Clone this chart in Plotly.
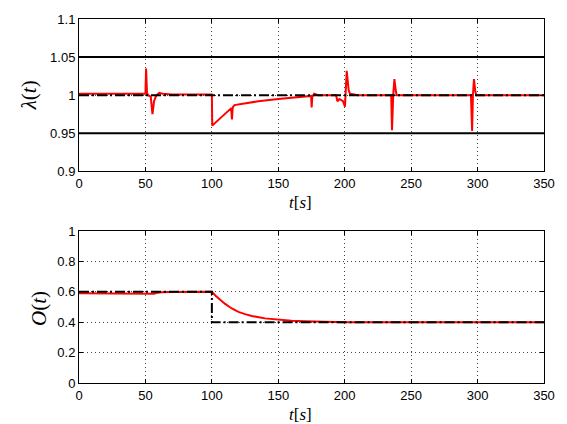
import plotly.graph_objects as go
from plotly.subplots import make_subplots

# ---- data ----
x_ticks = [0, 50, 100, 150, 200, 250, 300, 350]
lam_ticks = [0.9, 0.95, 1.0, 1.05, 1.1]
lam_ticklabels = ["0.9", "0.95", "1", "1.05", "1.1"]
o_ticks = [0, 0.2, 0.4, 0.6, 0.8, 1.0]
o_ticklabels = ["0", "0.2", "0.4", "0.6", "0.8", "1"]

lam_t = [0, 50, 50.5, 51.2, 52, 54, 55.3, 56.5, 58, 60.4, 63, 70, 100, 100.3, 101.5, 104,
         109, 114.6, 115.1, 115.7, 117, 124, 135, 150, 165, 174.7, 175.1, 175.6, 177, 178,
         180, 185, 193.5, 194.5, 196, 198.7, 200.2, 201.5, 203, 204, 210, 235, 235.6, 236.5,
         237.4, 238.3, 239, 295, 295.9, 296.5, 297.3, 298.2, 299, 350]
lam_v = [1.002, 1.002, 1.035, 1.003, 1.000, 0.998, 0.975, 0.992, 0.999, 1.003, 1.002, 1.001,
         1.001, 0.960, 0.962, 0.966, 0.975, 0.983, 0.968, 0.984, 0.987, 0.989, 0.992, 0.995,
         0.998, 0.999, 0.984, 0.998, 1.002, 1.001, 1.000, 1.000, 1.000, 0.992, 0.995, 0.992,
         0.985, 1.032, 1.006, 1.002, 1.000, 1.000, 0.954, 1.000, 1.021, 1.008, 1.000, 1.000,
         0.953, 1.000, 1.021, 1.006, 1.000, 1.000]
lam_ref_t = [0, 350]
lam_ref_v = [1.0, 1.0]
bound_t = [0, 350]
lam_upper = [1.05, 1.05]
lam_lower = [0.95, 0.95]

o_t = [0, 55, 56.5, 58, 62, 70, 100, 103, 106, 110, 115, 120, 125, 130, 140, 150, 160, 170,
       180, 190, 200, 350]
o_v = [0.591, 0.591, 0.587, 0.592, 0.597, 0.599, 0.600, 0.572, 0.547, 0.520, 0.490, 0.468,
       0.453, 0.441, 0.425, 0.416, 0.410, 0.406, 0.403, 0.401, 0.400, 0.400]
o_ref_t = [0, 100, 100, 350]
o_ref_v = [0.6, 0.6, 0.4, 0.4]

# ---- figure ----
fig = make_subplots(rows=2, cols=1)
RED = "#ff0000"
DASH = "10px,3px,2px,3px"

fig.add_trace(go.Scatter(x=bound_t, y=lam_upper, mode="lines",
                         line=dict(color="black", width=2)), row=1, col=1)
fig.add_trace(go.Scatter(x=bound_t, y=lam_lower, mode="lines",
                         line=dict(color="black", width=2)), row=1, col=1)
fig.add_trace(go.Scatter(x=lam_t, y=lam_v, mode="lines",
                         line=dict(color=RED, width=2)), row=1, col=1)
fig.add_trace(go.Scatter(x=lam_ref_t, y=lam_ref_v, mode="lines",
                         line=dict(color="black", width=2, dash=DASH)), row=1, col=1)

fig.add_trace(go.Scatter(x=o_t, y=o_v, mode="lines",
                         line=dict(color=RED, width=2)), row=2, col=1)
fig.add_trace(go.Scatter(x=o_ref_t, y=o_ref_v, mode="lines",
                         line=dict(color="black", width=2, dash=DASH)), row=2, col=1)

axis_common = dict(showline=True, linecolor="black", linewidth=1, mirror="ticks",
                   ticks="inside", ticklen=4, tickcolor="black",
                   showgrid=True, gridcolor="#444444", gridwidth=1, griddash="1px,3px",
                   zeroline=False, tickfont=dict(family="Liberation Sans, Arial", size=13,
                                                 color="black"))

fig.update_xaxes(range=[0, 350], tickvals=x_ticks, ticktext=[str(v) for v in x_ticks],
                 **axis_common)
fig.update_yaxes(range=[0.9, 1.1], tickvals=lam_ticks, ticktext=lam_ticklabels,
                 row=1, col=1, **axis_common)
fig.update_yaxes(range=[0, 1], tickvals=o_ticks, ticktext=o_ticklabels,
                 row=2, col=1, **axis_common)

fig.update_layout(
    width=567, height=424,
    margin=dict(l=79, r=20, t=15, b=41),
    paper_bgcolor="white", plot_bgcolor="white",
    showlegend=False,
    yaxis=dict(domain=[0.5815, 1.0]),
    yaxis2=dict(domain=[0.0, 0.4177]),
)

serif = "Liberation Serif, DejaVu Serif, serif"
annots = [
    dict(text="<i>t</i>[<i>s</i>]", x=0.4765, y=0.497, size=17, angle=0),
    dict(text="<i>t</i>[<i>s</i>]", x=0.4765, y=-0.087, size=17, angle=0),
    dict(text="<i>λ</i>(<i>t</i>)", x=-0.107, y=0.791, size=21, angle=-90),
    dict(text="<i>O</i>(<i>t</i>)", x=-0.0876, y=0.204, size=21, angle=-90),
]
for a in annots:
    fig.add_annotation(text=a["text"], x=a["x"], y=a["y"], xref="paper", yref="paper",
                       showarrow=False, textangle=a["angle"], xanchor="center",
                       yanchor="middle", font=dict(family=serif, size=a["size"],
                                                   color="black"))

fig.write_html("out.html", config={"displayModeBar": False},
               post_script="document.body.style.margin='0';"
               "document.body.style.overflow='hidden';")
